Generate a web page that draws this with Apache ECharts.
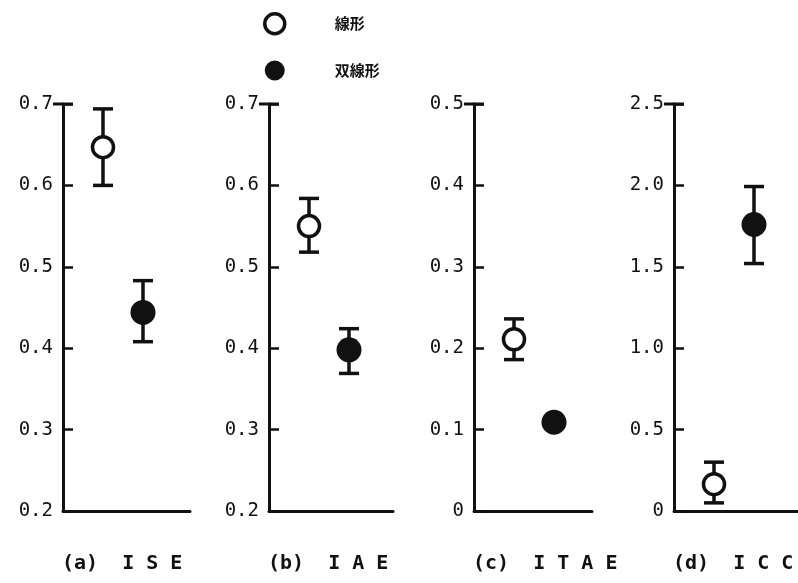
<!DOCTYPE html>
<html><head><meta charset="utf-8">
<script src="https://cdn.jsdelivr.net/npm/echarts@6/dist/echarts.min.js"></script>
<style>html,body{margin:0;padding:0;background:#fff}#c{width:798px;height:583px}</style>
</head><body><div id="c"></div>
<script>
// ---- data ----
var panelTitles = ['(a)  I S E', '(b)  I A E', '(c)  I T A E', '(d)  I C C'];
var yMin = [0.2, 0.2, 0, 0];
var yMax = [0.7, 0.7, 0.5, 2.5];
var yStep = [0.1, 0.1, 0.1, 0.5];
// 線形 (open circle): mean, lower, upper
var linearMean = [0.647, 0.550, 0.211, 0.165];
var linearLow  = [0.600, 0.518, 0.186, 0.050];
var linearHigh = [0.694, 0.584, 0.236, 0.300];
// 双線形 (filled circle): mean, lower, upper (null = no visible bar)
var bilinearMean = [0.444, 0.398, 0.109, 1.76];
var bilinearLow  = [0.408, 0.369, null, 1.52];
var bilinearHigh = [0.483, 0.424, null, 1.993];
var seriesNames = ['線形', '双線形'];

// ---- layout ----
var gridLeft = [63, 269, 474, 674];
var gridWidth = [127, 124, 118, 124];
var gridTop = 104, gridBottom = 72;
var pxPerUnit = 40;
var ink = '#111';
var mono = '"DejaVu Sans Mono","Liberation Mono",monospace';

var grids = [], xAxes = [], yAxes = [], series = [], titles = [];
for (var i = 0; i < 4; i++) {
  grids.push({left: gridLeft[i], width: gridWidth[i], top: gridTop, bottom: gridBottom, containLabel: false});
  xAxes.push({
    type: 'value', gridIndex: i, min: 0, max: gridWidth[i] / pxPerUnit,
    axisLine: {show: true, lineStyle: {color: ink, width: 3}},
    axisTick: {show: false}, axisLabel: {show: false}, splitLine: {show: false}
  });
  yAxes.push({
    type: 'value', gridIndex: i, min: yMin[i], max: yMax[i], interval: yStep[i],
    axisLine: {show: true, onZero: false, lineStyle: {color: ink, width: 3},
      symbol: ['none', 'rect'], symbolSize: [20, 3], symbolOffset: [0, 0]},
    axisTick: {show: true, inside: true, length: 10, lineStyle: {color: ink, width: 2.5}},
    axisLabel: {show: true, margin: 10, color: ink, fontFamily: mono, fontSize: 19,
      formatter: function (v) { return Math.abs(v) < 1e-9 ? '0' : v.toFixed(1); }},
    splitLine: {show: false}
  });
  titles.push({
    text: panelTitles[i], left: gridLeft[i] - 6, top: 549,
    textStyle: {fontFamily: mono, fontSize: 20, fontWeight: 'bold', color: ink}
  });

  var errData = [[1, linearLow[i], linearHigh[i]]];
  if (bilinearLow[i] !== null) errData.push([2, bilinearLow[i], bilinearHigh[i]]);
  series.push({
    type: 'custom', xAxisIndex: i, yAxisIndex: i, silent: true, z: 1,
    data: errData,
    renderItem: function (params, api) {
      var x = api.value(0);
      var lo = api.coord([x, api.value(1)]);
      var hi = api.coord([x, api.value(2)]);
      var cw = 10;
      var st = {stroke: ink, lineWidth: 3.5};
      return {type: 'group', children: [
        {type: 'line', shape: {x1: lo[0], y1: lo[1], x2: hi[0], y2: hi[1]}, style: st},
        {type: 'line', shape: {x1: lo[0] - cw, y1: lo[1], x2: lo[0] + cw, y2: lo[1]}, style: st},
        {type: 'line', shape: {x1: hi[0] - cw, y1: hi[1], x2: hi[0] + cw, y2: hi[1]}, style: st}
      ]};
    }
  });
  series.push({
    name: seriesNames[0], type: 'scatter', xAxisIndex: i, yAxisIndex: i, z: 3,
    symbol: 'circle', symbolSize: 21,
    itemStyle: {color: '#fff', borderColor: ink, borderWidth: 3.5, opacity: 1},
    data: [[1, linearMean[i]]]
  });
  series.push({
    name: seriesNames[1], type: 'scatter', xAxisIndex: i, yAxisIndex: i, z: 3,
    symbol: 'circle', symbolSize: 25,
    itemStyle: {color: ink, opacity: 1},
    data: [[2, bilinearMean[i]]]
  });
}

var chart = echarts.init(document.getElementById('c'), null, {renderer: 'canvas'});
chart.setOption({
  backgroundColor: '#fff',
  animation: false,
  title: titles,
  legend: {
    data: [
      {name: seriesNames[0], icon: 'circle', itemStyle: {color: '#fff', borderColor: ink, borderWidth: 3.5}},
      {name: seriesNames[1], icon: 'circle', itemStyle: {color: ink}}
    ],
    orient: 'vertical', left: 258, top: 7, itemWidth: 20, itemHeight: 20, itemGap: 25,
    selectedMode: false,
    textStyle: {fontFamily: '"Noto Sans CJK JP"', fontSize: 15, fontWeight: 'bold', color: ink,
      padding: [0, 0, 0, 45]}
  },
  grid: grids, xAxis: xAxes, yAxis: yAxes, series: series
});
</script></body></html>
